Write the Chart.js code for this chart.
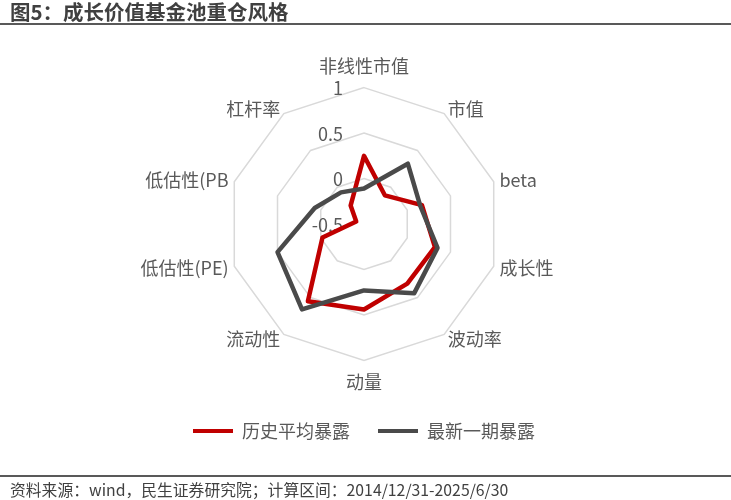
<!DOCTYPE html>
<html lang="zh">
<head>
<meta charset="utf-8">
<title>成长价值基金池重仓风格</title>
<script src="https://cdn.jsdelivr.net/npm/chart.js@4.4.1/dist/chart.umd.min.js"></script>
<style>
  html, body { margin: 0; padding: 0; background: #fff; }
  #wrap { position: relative; width: 731px; height: 500px; overflow: hidden; font-family: "Noto Sans CJK SC", "Noto Sans", sans-serif; }
  #styleChart { position: absolute; left: 0; top: 0; }
  .title { position: absolute; left: 10px; top: 0; font-size: 20.5px; line-height: 23px; font-weight: bold; color: #404040; white-space: nowrap; }
  .rule { position: absolute; left: 0; width: 731px; height: 2px; background: #595959; }
  .source { position: absolute; left: 10px; top: 480px; font-size: 15.8px; line-height: 20px; color: #404040; white-space: nowrap; }
</style>
</head>
<body>
<div id="wrap">
  <canvas id="styleChart" width="731" height="500"></canvas>
  <div class="title">图5：成长价值基金池重仓风格</div>
  <div class="rule" style="top:23px"></div>
  <div class="rule" style="top:475px"></div>
  <div class="source">资料来源：wind，民生证券研究院；计算区间：2014/12/31-2025/6/30</div>
</div>
<script>
// style factors, clockwise from the top
const axisLabels = ['非线性市值', '市值', 'beta', '成长性', '波动率', '动量', '流动性', '低估性(PE)', '低估性(PB', '杠杆率'];
const historyAvg = [0.25, -0.11, 0.17, 0.32, 0.31, 0.44, 0.55, -0.02, -0.41, -0.25];
const latest = [-0.11, 0.32, 0.15, 0.35, 0.44, 0.23, 0.66, 0.50, 0.07, -0.07];
const scaleMin = -0.5;
const scaleMax = 1;
const scaleStep = 0.5;

const FONT = '"Noto Sans CJK SC", "Noto Sans", sans-serif';
const TEXT_GREY = '#595959';

// value labels sit left of the vertical axis, like the Excel original
const tickLabels = {
    id: 'tickLabels',
    beforeDatasetsDraw(chart) {
        const r = chart.scales.r;
        const ctx = chart.ctx;
        ctx.save();
        ctx.font = '18px ' + FONT;
        ctx.fillStyle = TEXT_GREY;
        ctx.textAlign = 'right';
        ctx.textBaseline = 'middle';
        r.ticks.forEach(function (t) {
            const d = r.getDistanceFromCenterForValue(t.value);
            ctx.fillText(String(+t.value.toFixed(2)), r.xCenter - 21, r.yCenter - d + 1);
        });
        ctx.restore();
    }
};

document.addEventListener("DOMContentLoaded", function () {
    const ctx = document.getElementById("styleChart");

    new Chart(ctx, {
        type: 'radar',
        data: {
            labels: axisLabels,
            datasets: [{
                label: '历史平均暴露',
                data: historyAvg,
                borderColor: '#C00000',
                backgroundColor: '#C00000',
                borderWidth: 4.5,
                borderJoinStyle: 'round',
                fill: false,
                pointRadius: 0,
                order: 1
            }, {
                label: '最新一期暴露',
                data: latest,
                borderColor: '#4a4a4a',
                backgroundColor: '#4a4a4a',
                borderWidth: 4.5,
                borderJoinStyle: 'round',
                fill: false,
                pointRadius: 0,
                order: 0
            }]
        },
        options: {
            responsive: false,
            animation: false,
            layout: {
                padding: { top: 56, left: 0, right: 3, bottom: 50 }
            },
            plugins: {
                legend: {
                    position: 'bottom',
                    labels: {
                        font: { family: FONT, size: 18 },
                        color: TEXT_GREY,
                        boxWidth: 40,
                        boxHeight: 4,
                        padding: 28,
                        sort: (a, b) => a.datasetIndex - b.datasetIndex,
                        generateLabels: function (chart) {
                            return Chart.defaults.plugins.legend.labels.generateLabels(chart)
                                .map(item => Object.assign(item, { lineWidth: 0 }));
                        }
                    }
                },
                tooltip: { enabled: false }
            },
            scales: {
                r: {
                    min: scaleMin,
                    max: scaleMax,
                    ticks: {
                        stepSize: scaleStep,
                        display: false
                    },
                    grid: {
                        circular: false,
                        color: '#d9d9d9',
                        lineWidth: 1.5
                    },
                    angleLines: { display: false },
                    pointLabels: {
                        color: TEXT_GREY,
                        padding: (c) => c.index % 5 === 0 ? 11 : 6,
                        font: (c) => ({
                            family: FONT,
                            size: 18,
                            lineHeight: c.index % 5 === 0 ? 1.2 : 0
                        })
                    }
                }
            }
        },
        plugins: [tickLabels]
    });
});
</script>
</body>
</html>
